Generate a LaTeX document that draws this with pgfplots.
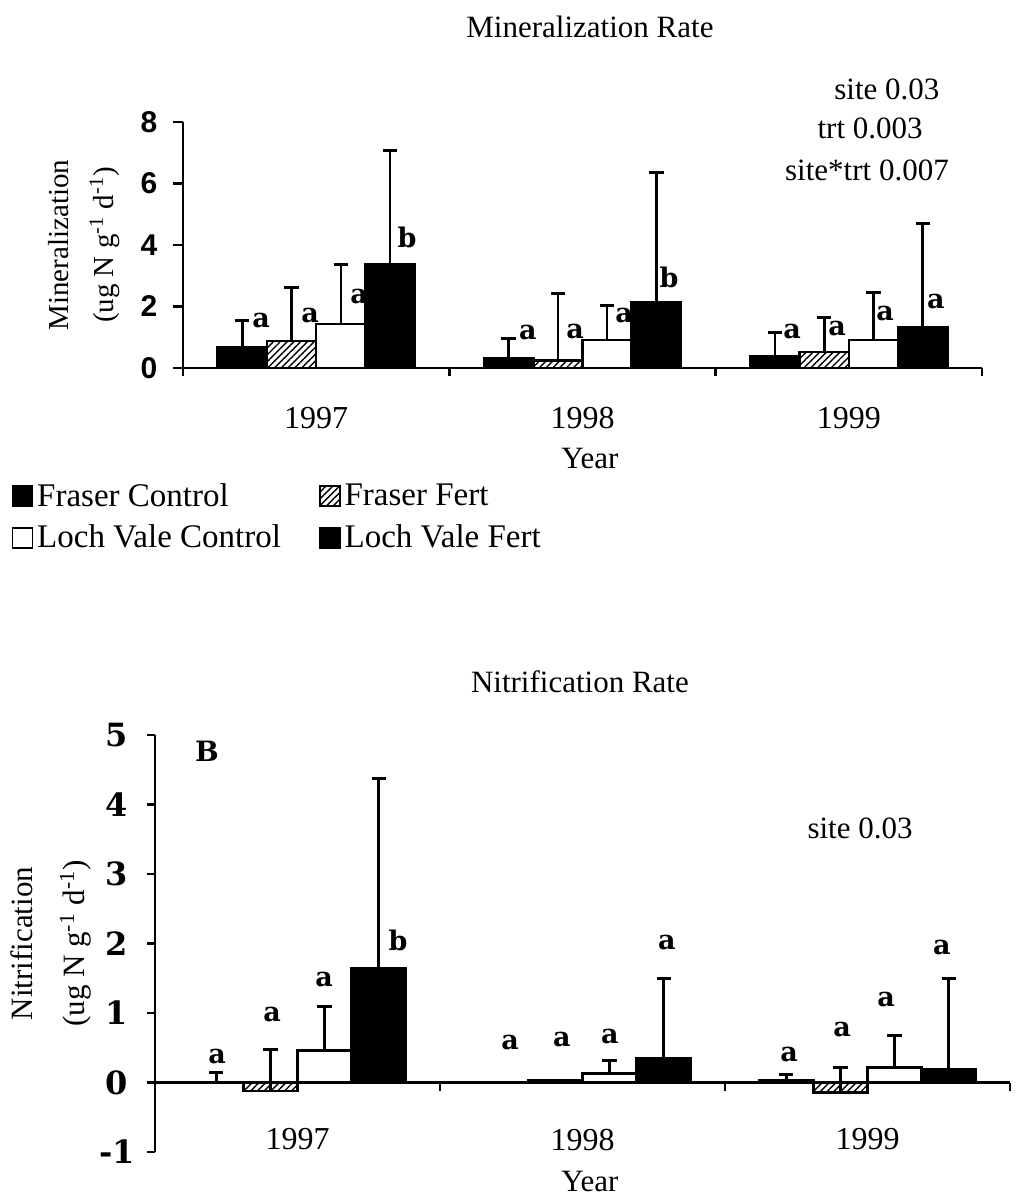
\documentclass[border=0pt]{standalone}
\usepackage{fontspec}
\setmainfont{Liberation Serif}
\newfontfamily\sansb{Liberation Sans}
\newfontfamily\dejaserif{DejaVu Serif}
\usepackage{pgfplots}
\usepackage{pgfplotstable}
\pgfplotsset{compat=1.18}
\usetikzlibrary{patterns.meta}

% ---------- Mineralization (top) ----------
\pgfplotstableread{
x y ey
0.2225 0.68 0.85
1.2225 0.30 0.65
2.2225 0.37 0.80
}\topFC
\pgfplotstableread{
x y ey
0.4075 0.88 1.74
1.4075 0.25 2.17
2.4075 0.52 1.13
}\topFF
\pgfplotstableread{
x y ey
0.5925 1.43 1.92
1.5925 0.91 1.11
2.5925 0.91 1.56
}\topLVC
\pgfplotstableread{
x y ey
0.7775 3.38 3.68
1.7775 2.13 4.24
2.7775 1.33 3.37
}\topLVF

% ---------- Nitrification (bottom) ----------
\pgfplotstableread{
x y ey
0.215 0.00 0.14
1.215 0.00 0.00
2.215 0.03 0.08
}\botFC
\pgfplotstableread{
x y ey
0.405 -0.12 0.59
1.405 0.03 0.00
2.405 -0.14 0.36
}\botFF
\pgfplotstableread{
x y ey
0.595 0.46 0.63
1.595 0.13 0.19
2.595 0.22 0.46
}\botLVC
\pgfplotstableread{
x y ey
0.785 1.65 2.72
1.785 0.35 1.15
2.785 0.19 1.31
}\botLVF

\pgfplotsset{
  barbase/.style={ybar, bar shift=0pt, draw=black, line width=1.3pt,
    legend image code/.code={\draw[##1, line width=0.8pt] (0pt,-5pt) rectangle (10pt,5pt);},
    /pgfplots/error bars/y dir=plus, /pgfplots/error bars/y explicit,
    /pgfplots/error bars/error mark=-,
    /pgfplots/error bars/error bar style={line width=1.3pt, black},
    /pgfplots/error bars/error mark options={line width=1.5pt, mark size=3.6pt, black, rotate=90}},
}
\tikzset{
  hatch/.style={pattern={Lines[angle=45,distance=2.4pt,line width=0.7pt]}, pattern color=black},
  lt/.style={font=\dejaserif\bfseries\fontsize{13.5}{15}\selectfont, anchor=center, inner sep=0pt},
  st/.style={font=\fontsize{15.5}{18}\selectfont, anchor=center, inner sep=0pt},
}

\begin{document}
\begin{tikzpicture}
\path[use as bounding box] (0,0) rectangle (509.5pt,-599.5pt);

% ================= TOP =================
\begin{axis}[
  at={(91.5pt,-184pt)}, anchor=south west,
  scale only axis, width=399.5pt, height=123pt,
  xmin=0, xmax=3, ymin=0, ymax=8,
  axis lines*=left,
  clip=false,
  xtick={0.5,1.5,2.5}, xticklabels={1997,1998,1999},
  minor xtick={0,1,2,3},
  ytick={0,2,4,6,8}, yticklabels={0,2,4,6,8},
  tick align=outside,
  major x tick style={draw=none},
  major tick length=5pt, minor tick length=4pt,
  axis line style={line width=1.2pt, black},
  every tick/.style={line width=1.2pt, black},
  xticklabel style={font=\fontsize{16}{18}\selectfont, anchor=center, yshift=-20pt},
  yticklabel style={font=\sansb\bfseries\fontsize{15}{17}\selectfont, anchor=center, xshift=-12pt},
  ylabel={Mineralization\\(ug N g\textsuperscript{-1} d\textsuperscript{-1})},
  ylabel style={align=center, font=\fontsize{14.5}{22.5}\selectfont, at={(axis description cs:-0.124,0.5)}, anchor=center},
  xlabel={Year},
  xlabel style={font=\fontsize{15.5}{18}\selectfont, at={(axis cs:1.528,-2.93)}, anchor=center},
  legend columns=2, legend cell align=left,
  legend style={draw=none, fill=none, at={(axis cs:-0.645,-3.60)}, anchor=north west,
    inner sep=0pt, font=\fontsize{16.5}{19}\selectfont, row sep=4pt,
    /tikz/every even column/.append style={column sep=17pt},
    nodes={inner sep=2pt}},
]
\addplot[barbase, bar width=0.185, fill=black] table[x=x,y=y,y error=ey]{\topFC};
\addlegendentry{Fraser Control}
\addplot[barbase, bar width=0.185, hatch] table[x=x,y=y,y error=ey]{\topFF};
\addlegendentry{Fraser Fert}
\addplot[barbase, bar width=0.185, fill=white] table[x=x,y=y,y error=ey]{\topLVC};
\addlegendentry{Loch Vale Control}
\addplot[barbase, bar width=0.185, fill=black] table[x=x,y=y,y error=ey]{\topLVF};
\addlegendentry{Loch Vale Fert}

\node[lt] at (axis cs:0.293,1.56) {a};
\node[lt] at (axis cs:0.477,1.72) {a};
\node[lt] at (axis cs:0.661,2.34) {a};
\node[lt] at (axis cs:0.841,4.26) {b};
\node[lt] at (axis cs:1.295,1.14) {a};
\node[lt] at (axis cs:1.472,1.20) {a};
\node[lt] at (axis cs:1.656,1.72) {a};
\node[lt] at (axis cs:1.825,2.96) {b};
\node[lt] at (axis cs:2.287,1.20) {a};
\node[lt] at (axis cs:2.456,1.30) {a};
\node[lt] at (axis cs:2.636,1.76) {a};
\node[lt] at (axis cs:2.827,2.15) {a};

\node[st] at (axis cs:2.643,9.07) {site 0.03};
\node[st] at (axis cs:2.580,7.80) {trt 0.003};
\node[st] at (axis cs:2.568,6.44) {site*trt 0.007};
\node[st] at (axis cs:1.528,11.09) {Mineralization Rate};
\end{axis}

% ================= BOTTOM =================
\begin{axis}[
  at={(77.5pt,-576pt)}, anchor=south west,
  scale only axis, width=427.5pt, height=208.5pt,
  xmin=0, xmax=3, ymin=-1, ymax=5,
  axis y line*=left, axis x line*=middle,
  clip=false,
  xtick={0.5,1.5,2.5}, xticklabels={1997,1998,1999},
  minor xtick={0,1,2,3},
  ytick={-1,0,1,2,3,4,5}, yticklabels={-1,0,1,2,3,4,5},
  tick align=outside,
  major x tick style={draw=none},
  major tick length=4pt, minor tick length=4pt,
  axis line style={line width=1.2pt, black},
  every tick/.style={line width=1.2pt, black},
  xticklabel style={font=\fontsize{16}{18}\selectfont, anchor=center, yshift=-24.5pt},
  yticklabel style={font=\dejaserif\bfseries\fontsize{16}{18}\selectfont, anchor=center, xshift=-15pt},
  ylabel={Nitrification\\(ug N g\textsuperscript{-1} d\textsuperscript{-1})},
  ylabel style={align=center, font=\fontsize{15.5}{26}\selectfont, at={(axis description cs:-0.1216,0.5)}, anchor=center},
  xlabel={Year},
  xlabel style={font=\fontsize{15.5}{18}\selectfont, at={(axis cs:1.526,-1.43)}, anchor=center},
]
\addplot[barbase, bar width=0.19, fill=black] table[x=x,y=y,y error=ey]{\botFC};
\addplot[barbase, bar width=0.19, hatch] table[x=x,y=y,y error=ey]{\botFF};
\addplot[barbase, bar width=0.19, fill=white] table[x=x,y=y,y error=ey]{\botLVC};
\addplot[barbase, bar width=0.19, fill=black] table[x=x,y=y,y error=ey]{\botLVF};

\node[lt] at (axis cs:0.218,0.37) {a};
\node[lt] at (axis cs:0.411,0.98) {a};
\node[lt] at (axis cs:0.593,1.48) {a};
\node[lt] at (axis cs:0.853,2.05) {b};
\node[lt] at (axis cs:1.246,0.57) {a};
\node[lt] at (axis cs:1.428,0.62) {a};
\node[lt] at (axis cs:1.596,0.66) {a};
\node[lt] at (axis cs:1.796,2.01) {a};
\node[lt] at (axis cs:2.225,0.40) {a};
\node[lt] at (axis cs:2.411,0.76) {a};
\node[lt] at (axis cs:2.565,1.19) {a};
\node[lt] at (axis cs:2.761,1.95) {a};

\node[lt, font=\dejaserif\bfseries\fontsize{14}{16}\selectfont] at (axis cs:0.182,4.76) {B};
\node[st] at (axis cs:2.474,3.66) {site 0.03};
\node[st] at (axis cs:1.491,5.76) {Nitrification Rate};
\end{axis}
\end{tikzpicture}
\end{document}
